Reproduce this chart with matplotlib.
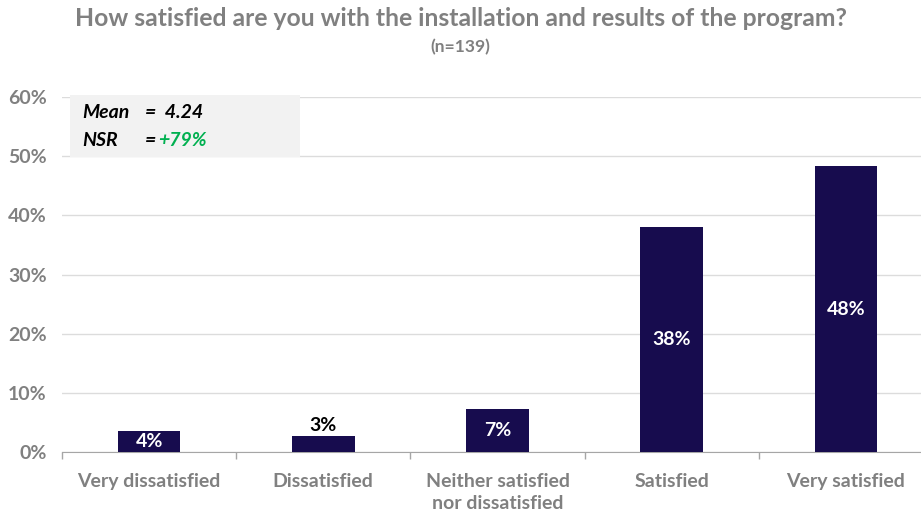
import matplotlib.pyplot as plt
import numpy as np

plt.rcParams['font.family'] = ['Lato', 'DejaVu Sans']

categories = ["Very dissatisfied", "Dissatisfied", "Neither satisfied\nnor dissatisfied",
              "Satisfied", "Very satisfied"]
values = [3.5, 2.7, 7.2, 38.1, 48.3]
labels = ["4%", "3%", "7%", "38%", "48%"]
yticks = [0, 10, 20, 30, 40, 50, 60]

bar_color = "#170c4e"
grey = "#808080"
fs = 14

fig = plt.figure(figsize=(9.21, 5.12), dpi=100)
ax = fig.add_axes([62 / 921, 60 / 512, 871 / 921, 355 / 512])

x = np.arange(len(categories))
ax.bar(x, values, width=0.36, color=bar_color, zorder=3)

for xi, v, lab in zip(x, values, labels):
    if v < 3:
        ax.text(xi, v + 0.4, lab, ha="center", va="bottom", fontsize=fs,
                fontweight="bold", color="black")
    else:
        ax.text(xi, v / 2, lab, ha="center", va="center", fontsize=fs,
                fontweight="bold", color="white", zorder=4)

ax.set_xlim(-0.5, 4.5)
ax.set_ylim(0, 60)
ax.set_yticks(yticks)
ax.set_yticklabels([f"{t}%" for t in yticks])
ax.grid(axis="y", color="#dcdcdc", linewidth=1, zorder=0)

ax.set_xticks(x)
ax.set_xticklabels(categories, linespacing=1.35)
ax.set_xticks(np.arange(-0.5, 5, 1), minor=True)
ax.tick_params(axis="x", which="major", length=0, pad=15, labelsize=fs,
               labelcolor=grey)
ax.tick_params(axis="x", which="minor", length=5, color="#a6a6a6", width=1)
ax.tick_params(axis="y", length=0, pad=11, labelsize=fs, labelcolor=grey)
for lab in ax.get_xticklabels() + ax.get_yticklabels():
    lab.set_fontweight("bold")

for s in ["top", "right", "left"]:
    ax.spines[s].set_visible(False)
ax.spines["bottom"].set_color("#a6a6a6")

fig.text(0.5, 1 - 18 / 512, "How satisfied are you with the installation and results of the program?",
         ha="center", va="center", fontsize=17.8, fontweight="bold", color=grey)
fig.text(0.5, 1 - 47 / 512, "(n=139)", ha="center", va="center", fontsize=12.5,
         fontweight="bold", color=grey)

# stats box
box = plt.Rectangle((70 / 921, (512 - 157) / 512), 230 / 921, 62 / 512,
                    transform=fig.transFigure, facecolor="#f2f2f2", edgecolor="none", zorder=1)
fig.patches.append(box)
fig.text(82 / 921, 1 - 113 / 512, "Mean", fontsize=fs, fontweight="bold",
         style="italic", va="center")
fig.text(145 / 921, 1 - 113 / 512, "=  4.24", fontsize=fs, fontweight="bold",
         style="italic", va="center")
fig.text(82 / 921, 1 - 140 / 512, "NSR", fontsize=fs, fontweight="bold",
         style="italic", va="center")
fig.text(145 / 921, 1 - 140 / 512, "=", fontsize=fs, fontweight="bold",
         style="italic", va="center")
fig.text(158 / 921, 1 - 140 / 512, "+79%", fontsize=fs, fontweight="bold",
         style="italic", va="center", color="#00b050")

fig.savefig("out.png", dpi=100)
